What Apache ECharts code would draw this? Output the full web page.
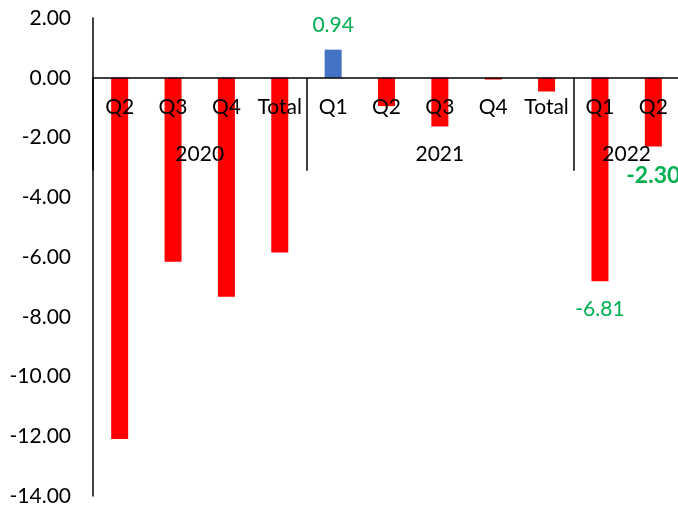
<!DOCTYPE html>
<html>
<head>
<meta charset="utf-8">
<script src="https://cdn.jsdelivr.net/npm/echarts@6/dist/echarts.min.js"></script>
<style>
  html, body { margin: 0; padding: 0; background: #fff; }
  #chart { width: 678px; height: 509px; }
</style>
</head>
<body>
<div id="chart"></div>
<script>
// Quarterly changes, grouped by year
const quarters = ['Q2', 'Q3', 'Q4', 'Total', 'Q1', 'Q2', 'Q3', 'Q4', 'Total', 'Q1', 'Q2'];
const values = [-12.09, -6.16, -7.33, -5.85, 0.94, -0.95, -1.63, -0.06, -0.46, -6.81, -2.30];
const years = ['2020', '2021', '2022'];
const yearSizes = [4, 5, 2];
const labelledIdx = [4, 9, 10];
const emphasisIdx = [10];

const FONT = 'Lato';
const FS = 21;
const GREEN = '#00B050';
const GRID_TOP = 18;

// Half-category slots for the year level: 2 slots per quarter, boundaryGap false
const slotCount = quarters.length * 2 + 1;
const yearSlots = new Array(slotCount).fill('');
const boundarySlots = new Set([0]);
let start = 0;
years.forEach((y, i) => {
  yearSlots[start + yearSizes[i]] = y;   // centre of the group
  start += yearSizes[i] * 2;
  boundarySlots.add(start);
});

const barData = values.map((v, i) => {
  const item = { value: v };
  if (labelledIdx.includes(i)) {
    const bold = emphasisIdx.includes(i);
    item.label = {
      show: true,
      position: 'outside',
      distance: bold ? 18 : (v >= 0 ? 14 : 18),
      color: GREEN,
      fontFamily: FONT,
      fontSize: bold ? 23 : FS,
      fontWeight: bold ? 'bold' : 'normal',
      formatter: (p) => p.value.toFixed(2)
    };
  }
  return item;
});

// Both category axes sit on the zero line; they hang their labels and ticks downward
function xAxes(offset) {
  return [
    {
      type: 'category',
      data: quarters,
      position: 'top',
      offset: offset,
      z: 5,
      axisLine: { onZero: false, lineStyle: { color: '#000', width: 1.5 } },
      axisTick: { show: false },
      axisLabel: { inside: true, margin: 19, color: '#000', fontFamily: FONT, fontSize: FS, interval: 0 },
      splitLine: { show: false }
    },
    {
      type: 'category',
      data: yearSlots,
      boundaryGap: false,
      position: 'top',
      offset: offset,
      z: 5,
      axisLine: { show: false, onZero: false },
      axisTick: {
        show: true,
        inside: true,
        length: 93,
        interval: (idx) => boundarySlots.has(idx),
        lineStyle: { color: '#000', width: 1.5 }
      },
      axisLabel: {
        inside: true,
        margin: 66,
        color: '#000',
        fontFamily: FONT,
        fontSize: FS,
        interval: (idx, val) => val !== ''
      },
      splitLine: { show: false }
    }
  ];
}

const chart = echarts.init(document.getElementById('chart'));
chart.setOption({
  animation: false,
  backgroundColor: '#fff',
  grid: { left: 93, top: GRID_TOP, width: 587, height: 478, containLabel: false, outerBoundsMode: 'none' },
  xAxis: xAxes(0),
  yAxis: {
    type: 'value',
    min: -14,
    max: 2,
    interval: 2,
    z: 5,
    axisLine: { show: true, onZero: false, lineStyle: { color: '#000', width: 1.5 } },
    axisTick: { show: false },
    splitLine: { show: false },
    axisLabel: {
      margin: 22,
      color: '#000',
      fontFamily: FONT,
      fontSize: FS,
      formatter: (v) => v.toFixed(2)
    }
  },
  series: [{
    type: 'bar',
    xAxisIndex: 0,
    yAxisIndex: 0,
    barWidth: 17,
    data: barData,
    itemStyle: {
      color: (p) => (p.value >= 0 ? '#4472C4' : '#FF0000')
    },
    z: 1
  }]
});

// Move the category axes down to where the value scale crosses zero
const zeroY = chart.convertToPixel({ yAxisIndex: 0 }, 0);
chart.setOption({ xAxis: xAxes(GRID_TOP - zeroY) });
</script>
</body>
</html>
